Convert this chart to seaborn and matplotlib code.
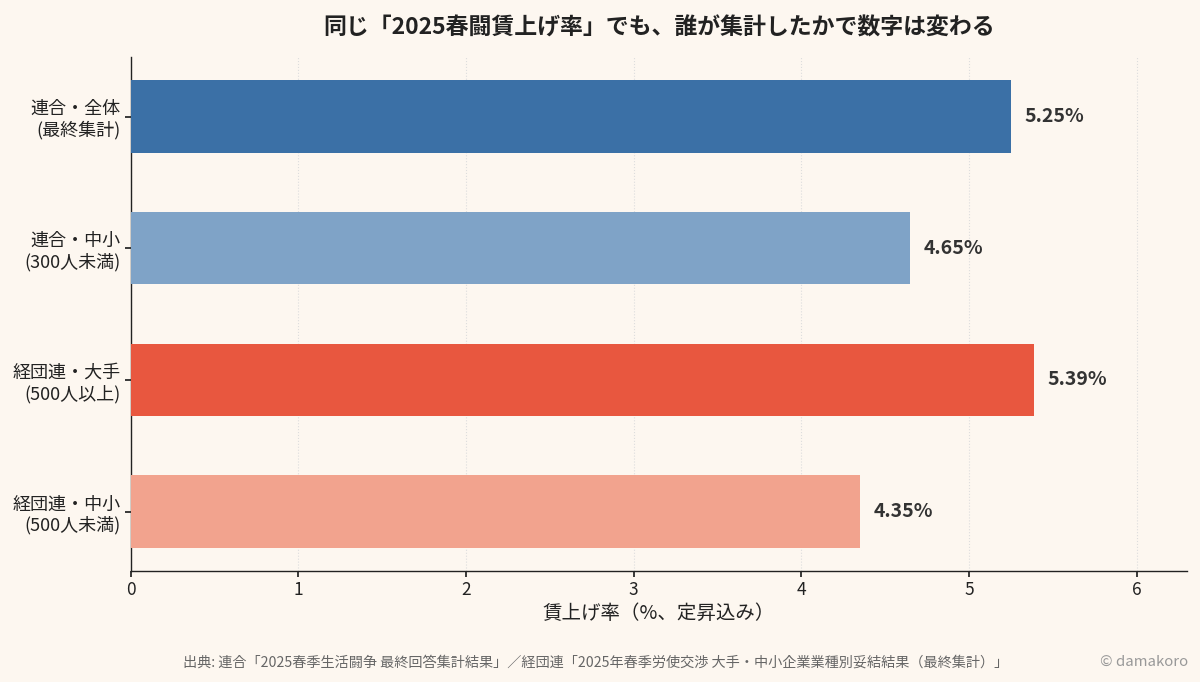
import matplotlib
matplotlib.use("Agg")
import matplotlib.pyplot as plt
import seaborn as sns
import pandas as pd

# data
categories = ["連合・全体\n(最終集計)", "連合・中小\n(300人未満)",
              "経団連・大手\n(500人以上)", "経団連・中小\n(500人未満)"]
rates = [5.25, 4.65, 5.39, 4.35]
colors = ["#3b70a6", "#7fa3c7", "#e8573f", "#f2a38e"]

df = pd.DataFrame({"group": categories, "rate": rates})

sns.set_theme(style="white")
plt.rcParams["font.family"] = ["Noto Sans CJK JP", "DejaVu Sans"]
bg = "#fdf7f0"

fig = plt.figure(figsize=(12, 6.82), dpi=100, facecolor=bg)
ax = fig.add_axes([0.109, 0.163, 0.88, 0.753])
ax.set_facecolor(bg)

sns.barplot(data=df, y="group", x="rate", hue="group", palette=colors,
            legend=False, width=0.55, saturation=1, linewidth=0,
            ax=ax, zorder=3)

for i, v in enumerate(rates):
    ax.text(v + 0.08, i, f"{v:.2f}%", va="center", ha="left",
            fontsize=14, fontweight="bold", color="#333333")

ax.set_xlim(0, 6.3)
ax.set_ylim(3.45, -0.45)
ax.set_xticks(range(0, 7))
ax.xaxis.grid(True, linestyle=":", color="#dddddd", linewidth=0.8, zorder=0)
ax.set_axisbelow(True)
for s in ["top", "right"]:
    ax.spines[s].set_visible(False)
for s in ["left", "bottom"]:
    ax.spines[s].set_color("#222222")
    ax.spines[s].set_linewidth(1.0)
ax.tick_params(axis="both", length=4, color="#222222", labelsize=12.5,
               labelcolor="#222222", left=True, bottom=True)
ax.tick_params(axis="y", labelsize=13)
ax.set_ylabel("")
ax.set_xlabel("賃上げ率（%、定昇込み）", fontsize=14, color="#222222", labelpad=3)

ax.set_title("同じ「2025春闘賃上げ率」でも、誰が集計したかで数字は変わる",
             fontsize=16.5, fontweight="bold", color="#222222", pad=16)

fig.text(0.496, 0.029,
         "出典: 連合「2025春季生活闘争 最終回答集計結果」／経団連「2025年春季労使交渉 大手・中小企業業種別妥結結果（最終集計）」",
         ha="center", va="center", fontsize=10.2, color="#666666")
fig.text(0.99, 0.029, "© damakoro", ha="right", va="center",
         fontsize=10.8, color="#999999")

fig.savefig("out.png", dpi=100, facecolor=bg)
